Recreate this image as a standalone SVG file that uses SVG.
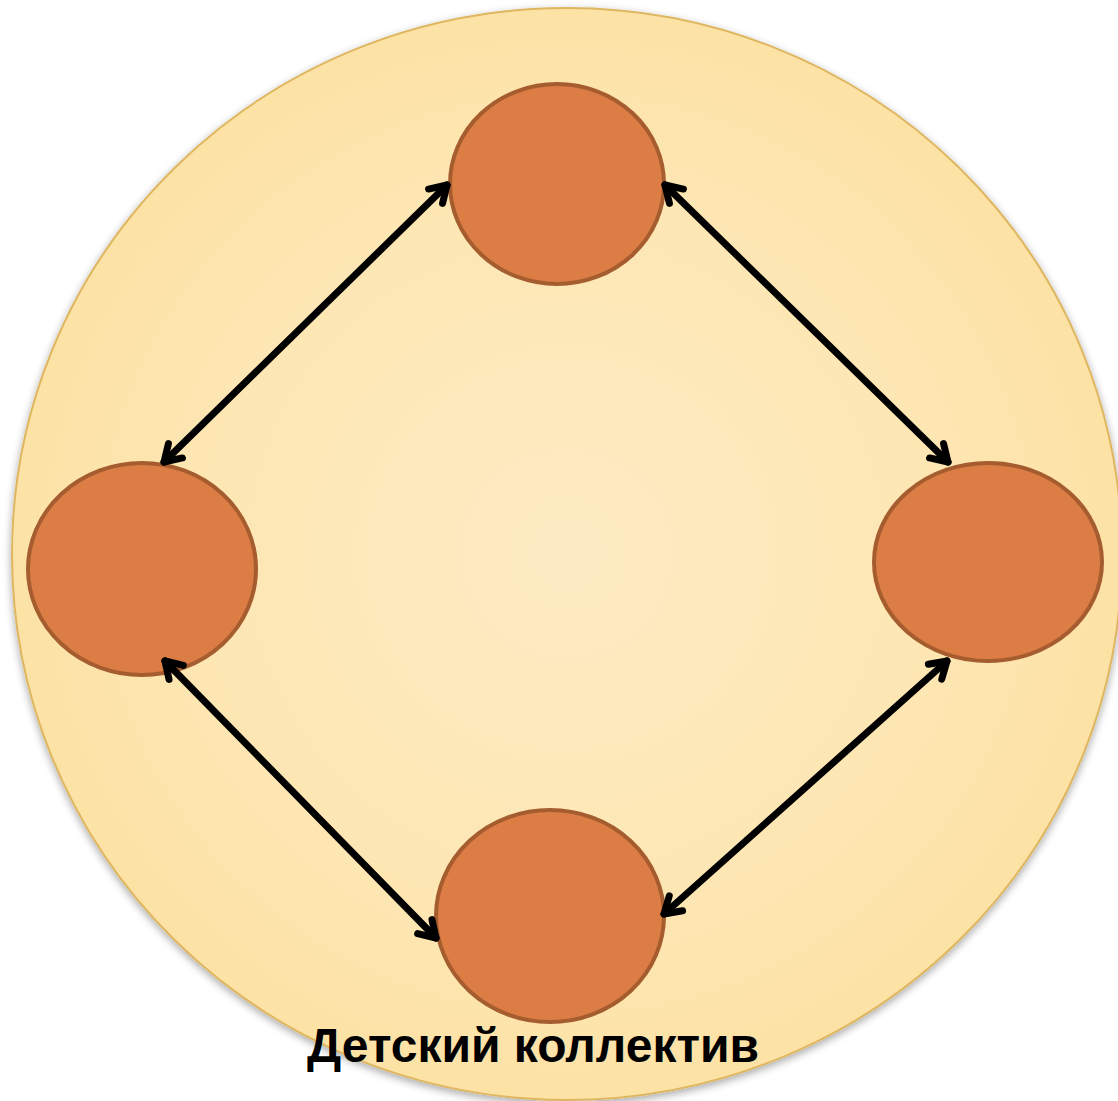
<svg xmlns="http://www.w3.org/2000/svg" width="1118" height="1101" viewBox="0 0 1118 1101">
<style>
.node{fill:#db7d45;stroke:#a55c2e;stroke-width:4}
.conn{stroke:#000;stroke-width:7;fill:none;marker-start:url(#ah);marker-end:url(#ah);stroke-linecap:round}
.lbl{font-family:"Liberation Sans",Arial,sans-serif;font-weight:bold;font-size:48px;fill:#000}
</style>
<defs>
<radialGradient id="bg" cx="0.5" cy="0.5" r="0.5">
<stop offset="0" stop-color="#fdebc4"/>
<stop offset="0.7" stop-color="#fde6b2"/>
<stop offset="1" stop-color="#fde2a5"/>
</radialGradient>
<marker id="ah" viewBox="-22 -15 26 30" markerWidth="26" markerHeight="30" refX="0" refY="0" orient="auto-start-reverse" markerUnits="userSpaceOnUse">
<path d="M-16,-10 L0,0 L-16,10" fill="none" stroke="#000" stroke-width="7" stroke-linecap="round" stroke-linejoin="round"/>
</marker>
<filter id="sh" x="-10%" y="-10%" width="120%" height="120%">
<feGaussianBlur in="SourceAlpha" stdDeviation="4"/>
<feOffset dx="0" dy="3"/>
<feComponentTransfer><feFuncA type="linear" slope="0.35"/></feComponentTransfer>
<feMerge><feMergeNode/><feMergeNode in="SourceGraphic"/></feMerge>
</filter>
</defs>
<rect width="1118" height="1101" fill="#fff"/>
<g id="collective">
<ellipse cx="567" cy="554" rx="555" ry="546" fill="url(#bg)" stroke="#dfb660" stroke-width="2" filter="url(#sh)"/>
</g>
<g id="node-top"><ellipse class="node" cx="557" cy="184" rx="107" ry="100"/></g>
<g id="node-left"><ellipse class="node" cx="142" cy="569" rx="114" ry="106"/></g>
<g id="node-right"><ellipse class="node" cx="988" cy="562" rx="114" ry="99"/></g>
<g id="node-bottom"><ellipse class="node" cx="550" cy="916" rx="114" ry="106"/></g>
<g id="connectors">
<line class="conn" x1="447" y1="185" x2="164" y2="462"/>
<line class="conn" x1="665" y1="185" x2="948" y2="462"/>
<line class="conn" x1="165" y1="661" x2="436" y2="938"/>
<line class="conn" x1="947" y1="661" x2="664" y2="914"/>
</g>
<g id="label"><text class="lbl" x="533" y="1062" text-anchor="middle">Детский коллектив</text></g>
</svg>
